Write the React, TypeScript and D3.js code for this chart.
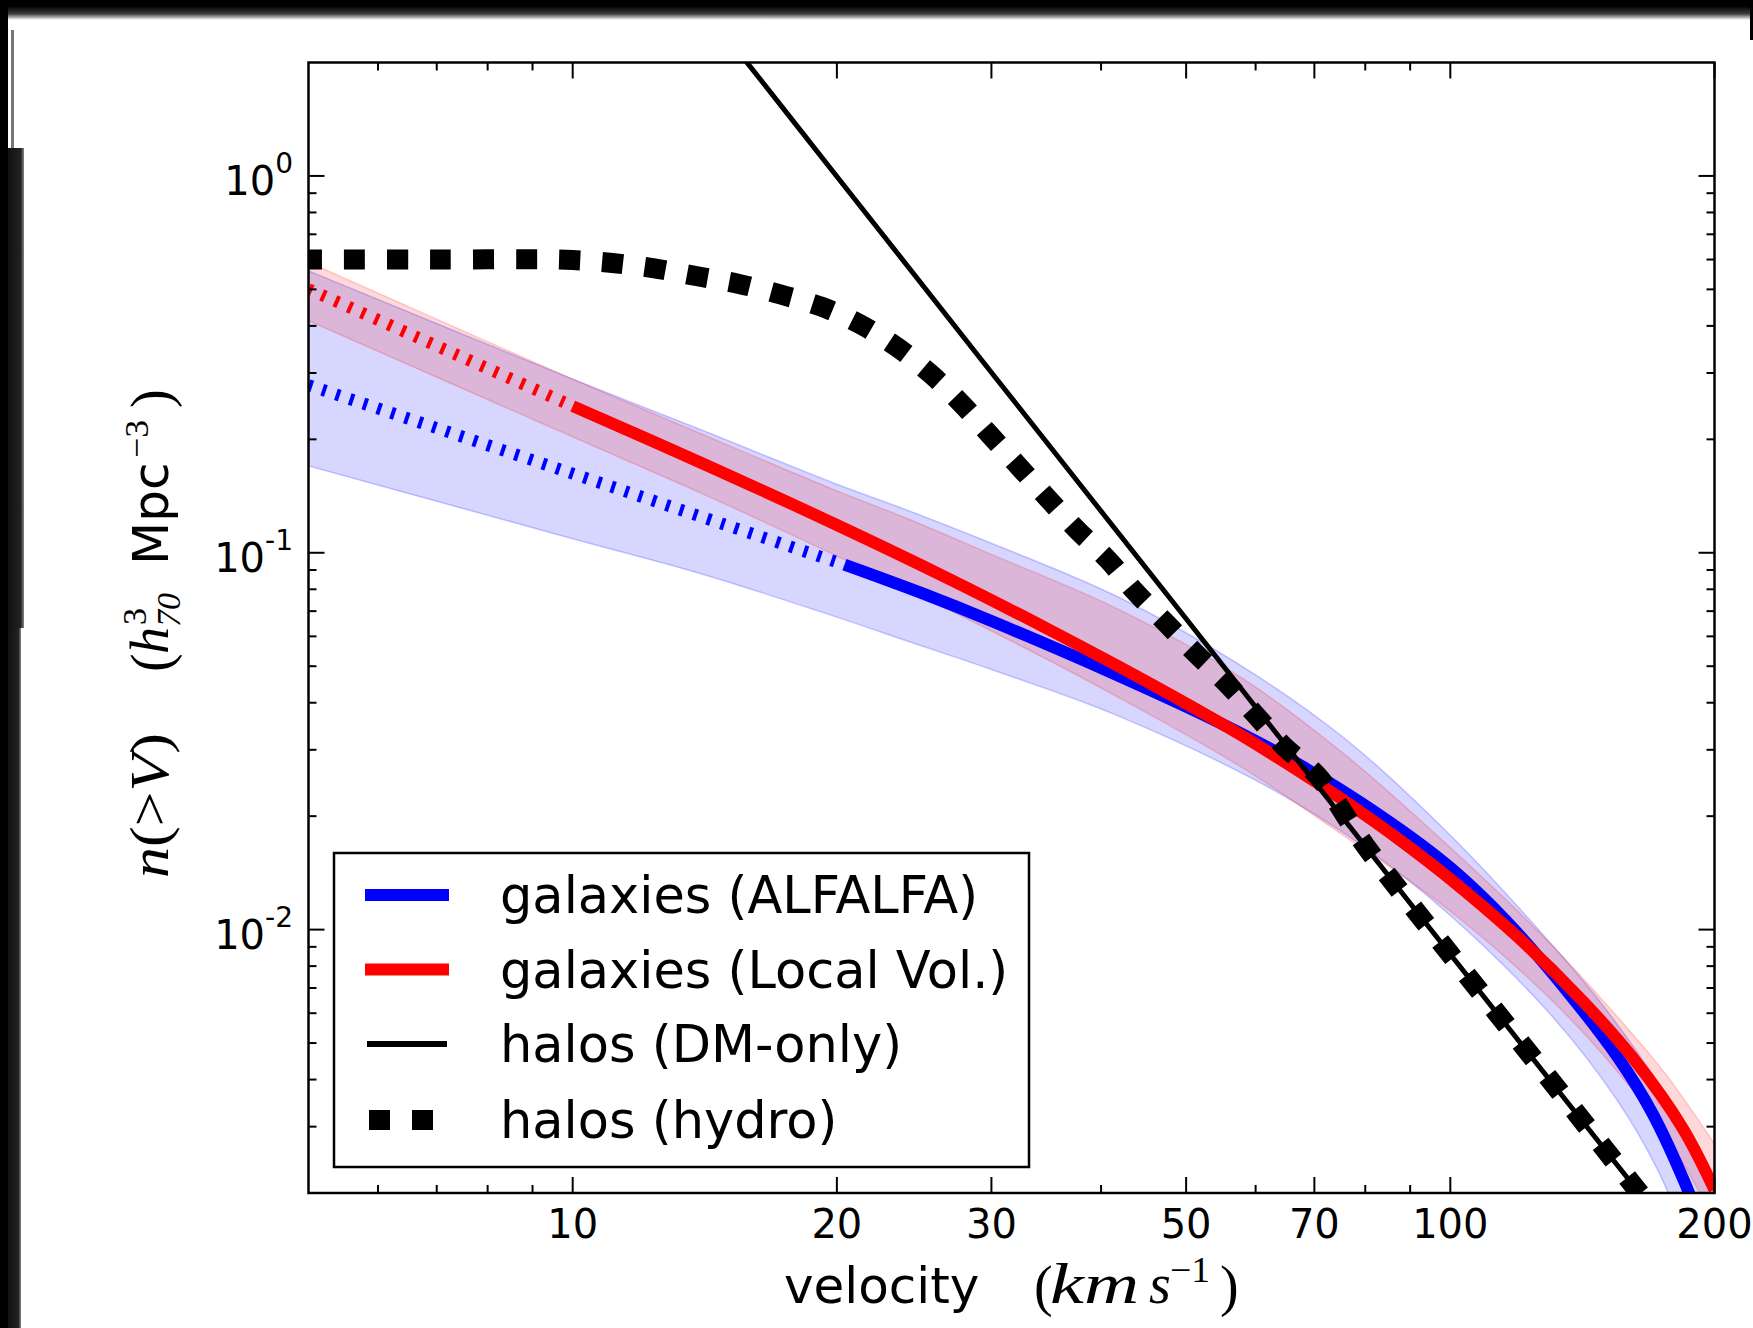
import * as d3 from "d3";
import React from "react";

// galaxies (ALFALFA): best fit and its uncertainty band
const alfalfaV = [5, 7, 10, 14, 20.4, 25, 30, 41.5, 55, 68, 85, 100, 116, 137, 155, 170, 185, 192];
const alfalfaN = [0.2785, 0.2142, 0.1622, 0.1247, 0.093, 0.0781, 0.0659, 0.0476, 0.0351, 0.027, 0.0194, 0.0146, 0.0105, 0.0067, 0.0046, 0.00325, 0.00213, 0.0017];
const alfalfaHiV = [5, 10, 14, 20, 24, 30, 41.5, 57.5, 76, 100, 127, 150, 175, 200];
const alfalfaHiN = [0.56, 0.289, 0.212, 0.152, 0.13, 0.106, 0.077, 0.0505, 0.032, 0.0178, 0.0098, 0.0062, 0.0037, 0.0021];
const alfalfaLoV = [5, 10, 14, 20, 24, 30, 41.5, 62, 80, 100, 130, 155, 172, 190];
const alfalfaLoN = [0.17, 0.109, 0.088, 0.0675, 0.0584, 0.049, 0.0372, 0.0239, 0.0165, 0.0109, 0.00596, 0.00352, 0.00232, 0.00134];
const alfalfaDottedBelow = 20.4;

// galaxies (Local Vol.)
const localV = [5, 7, 10, 14, 20, 26.8, 35, 41.5, 50, 57.5, 68, 77, 88, 100, 119, 142, 162, 184, 200];
const localN = [0.5008, 0.354, 0.245, 0.1734, 0.1185, 0.0854, 0.0623, 0.0505, 0.0398, 0.033, 0.0259, 0.0214, 0.01715, 0.01362, 0.00962, 0.00641, 0.00452, 0.00297, 0.00204];
const localHiV = [5, 10, 14, 20, 24, 30, 41.5, 57.5, 76, 100, 127, 150, 175, 200];
const localHiN = [0.59, 0.289, 0.207, 0.146, 0.1235, 0.099, 0.0715, 0.047, 0.029, 0.0165, 0.0097, 0.0064, 0.0042, 0.0027];
const localLoV = [5, 10, 14, 20, 30, 41.5, 57.5, 76, 100, 127, 150, 175, 200];
const localLoN = [0.413, 0.203, 0.144, 0.098, 0.062, 0.0418, 0.0272, 0.0176, 0.0112, 0.0069, 0.0046, 0.0029, 0.0017];
const localDottedBelow = 10;

// halos
const dmV = [15, 20, 30, 50, 70, 100, 150, 180];
const dmN = [2.33, 0.997, 0.301, 0.0668, 0.0247, 0.0086, 0.00261, 0.00153];
const hydroV = [5, 7, 10, 12, 13.97, 15.47, 17.28, 19.24, 21.26, 23.43, 25.55, 27.72, 29.91, 32.27, 34.83, 37.57, 40.76, 43.75, 47.46, 51.21, 55.55, 59.95, 64.69, 70.7, 80, 100, 130, 160, 180];
const hydroN = [0.6, 0.6, 0.598, 0.575, 0.54, 0.517, 0.484, 0.449, 0.404, 0.351, 0.299, 0.249, 0.205, 0.169, 0.139, 0.115, 0.0957, 0.0788, 0.065, 0.0542, 0.0451, 0.0372, 0.0306, 0.0255, 0.0167, 0.0086, 0.00399, 0.00216, 0.00153];

// axes
const xMajor = [10, 20, 30, 50, 70, 100, 200];
const xMinor = [6, 7, 8, 9, 40, 60, 80, 90];
const yMajor = [0.01, 0.1, 1];
const yMajorExp = ["-2", "-1", "0"];
const yMinor = [0.002, 0.003, 0.004, 0.005, 0.006, 0.007, 0.008, 0.009, 0.02, 0.03, 0.04, 0.05, 0.06, 0.07, 0.08, 0.09, 0.2, 0.3, 0.4, 0.5, 0.6, 0.7, 0.8, 0.9];

const legendLabels = ["galaxies (ALFALFA)", "galaxies (Local Vol.)", "halos (DM-only)", "halos (hydro)"];

const W = 1753;
const H = 1328;
const left = 308.5, right = 1714.5, top = 62.5, bottom = 1193;
const sans = "'DejaVu Sans', sans-serif";
const serif = "'Liberation Serif', 'DejaVu Serif', serif";

const x = d3.scaleLog().domain([5, 200]).range([left, right]);
const y = d3.scaleLog().domain([0.002, 2]).range([bottom, top]);

const smooth = d3.curveCatmullRom.alpha(0.5);

const line = d3.line<number[]>()
  .x((d) => x(d[0]))
  .y((d) => y(d[1]))
  .curve(smooth);

const pts = (vs: number[], ns: number[]) => vs.map((v, i) => [v, ns[i]]);

function band(hiV: number[], hiN: number[], loV: number[], loN: number[]) {
  const upper = line(pts(hiV, hiN)) || "";
  const lower = line(pts(loV, loN).reverse()) || "";
  return upper + "L" + lower.slice(1) + "Z";
}

function splitAt(vs: number[], ns: number[], thr: number) {
  const p = pts(vs, ns);
  return {
    dotted: line(p.filter((d) => d[0] <= thr)) || "",
    solid: line(p.filter((d) => d[0] >= thr)) || "",
  };
}

export default function App() {
  const blue = splitAt(alfalfaV, alfalfaN, alfalfaDottedBelow);
  const red = splitAt(localV, localN, localDottedBelow);
  const blueBand = band(alfalfaHiV, alfalfaHiN, alfalfaLoV, alfalfaLoN);
  const redBand = band(localHiV, localHiN, localLoV, localLoN);

  const legendRows = [895, 969.5, 1044, 1120];

  return (
    <svg width={W} height={H} viewBox={`0 0 ${W} ${H}`}
      style={{ position: "absolute", left: 0, top: 0, background: "#fff" }}>
      <defs>
        <clipPath id="plot">
          <rect x={left} y={top} width={right - left} height={bottom - top} />
        </clipPath>
        <linearGradient id="topband" x1="0" y1="0" x2="0" y2="1">
          <stop offset="0" stopColor="#000" />
          <stop offset="0.55" stopColor="#3a3a3a" />
          <stop offset="1" stopColor="#fff" />
        </linearGradient>
        <linearGradient id="leftband" x1="0" y1="0" x2="1" y2="0">
          <stop offset="0" stopColor="#111" />
          <stop offset="0.8" stopColor="#222" />
          <stop offset="1" stopColor="#888" />
        </linearGradient>
      </defs>

      {/* scanned page frame */}
      <rect x={0} y={0} width={W} height={6} fill="#000" />
      <rect x={0} y={6} width={W} height={14} fill="url(#topband)" />
      <rect x={0} y={0} width={8} height={H} fill="#000" />
      <rect x={8} y={148} width={16} height={480} fill="url(#leftband)" />
      <rect x={8} y={628} width={13} height={H - 628} fill="url(#leftband)" />
      <rect x={11} y={30} width={3} height={118} fill="#777" />
      <rect x={1750} y={0} width={3} height={40} fill="#000" />

      {/* bands */}
      <g clipPath="url(#plot)">
        <path d={blueBand} fill="#0000ff" fillOpacity={0.16} stroke="#0000ff" strokeOpacity={0.2} strokeWidth={1.5} />
        <path d={redBand} fill="#ff0000" fillOpacity={0.15} stroke="#ff0000" strokeOpacity={0.18} strokeWidth={1.5} />

        <path d={blue.dotted} fill="none" stroke="#0000ff" strokeWidth={12} strokeDasharray="4 10.5" />
        <path d={blue.solid} fill="none" stroke="#0000ff" strokeWidth={12} />
        <path d={red.dotted} fill="none" stroke="#ff0000" strokeWidth={12} strokeDasharray="4 10.5" />
        <path d={red.solid} fill="none" stroke="#ff0000" strokeWidth={12} />

        <path d={line(pts(dmV, dmN)) || ""} fill="none" stroke="#000" strokeWidth={5} />
        <path d={line(pts(hydroV, hydroN)) || ""} fill="none" stroke="#000" strokeWidth={20}
          strokeDasharray="21 22" strokeDashoffset={7.5} />
      </g>

      {/* ticks, inward on all four sides */}
      <g stroke="#000" strokeWidth={2}>
        {xMajor.map((v) => (
          <g key={"xM" + v}>
            <line x1={x(v)} x2={x(v)} y1={bottom} y2={bottom - 16} />
            <line x1={x(v)} x2={x(v)} y1={top} y2={top + 16} />
          </g>
        ))}
        {xMinor.map((v) => (
          <g key={"xm" + v}>
            <line x1={x(v)} x2={x(v)} y1={bottom} y2={bottom - 8} />
            <line x1={x(v)} x2={x(v)} y1={top} y2={top + 8} />
          </g>
        ))}
        {yMajor.map((v) => (
          <g key={"yM" + v}>
            <line x1={left} x2={left + 16} y1={y(v)} y2={y(v)} />
            <line x1={right} x2={right - 16} y1={y(v)} y2={y(v)} />
          </g>
        ))}
        {yMinor.map((v) => (
          <g key={"ym" + v}>
            <line x1={left} x2={left + 8} y1={y(v)} y2={y(v)} />
            <line x1={right} x2={right - 8} y1={y(v)} y2={y(v)} />
          </g>
        ))}
      </g>

      <rect x={left} y={top} width={right - left} height={bottom - top} fill="none" stroke="#000" strokeWidth={2.5} />

      {/* tick labels */}
      <g fontFamily={sans} fill="#000">
        {xMajor.map((v) => (
          <text key={"xl" + v} x={x(v)} y={1238} fontSize={40} textAnchor="middle">{v}</text>
        ))}
        {yMajor.map((v, i) => (
          <text key={"yl" + v} x={293} y={y(v) + 19.5} fontSize={40} textAnchor="end">
            10<tspan dy={-22} fontSize={28}>{yMajorExp[i]}</tspan>
          </text>
        ))}
      </g>

      {/* x label */}
      <g fill="#000">
        <text x={784} y={1303} fontFamily={sans} fontSize={50}>velocity</text>
        <text x={1034} y={1305} fontFamily={serif} fontSize={56}>(</text>
        <text x={1050} y={1303} fontFamily={serif} fontSize={56} fontStyle="italic"
          textLength={89} lengthAdjust="spacingAndGlyphs">km</text>
        <text x={1149} y={1303} fontFamily={serif} fontSize={56} fontStyle="italic">s</text>
        <text x={1170} y={1282} fontFamily={serif} fontSize={36}
          textLength={40} lengthAdjust="spacingAndGlyphs">−1</text>
        <text x={1220} y={1305} fontFamily={serif} fontSize={56}>)</text>
      </g>

      {/* y label */}
      <g transform="translate(168,878) rotate(-90)" fill="#000">
        <text x={0} y={0} fontFamily={serif} fontSize={54} textLength={145} lengthAdjust="spacingAndGlyphs">
          <tspan fontStyle="italic">n</tspan>(&gt;<tspan fontStyle="italic">V</tspan>)
        </text>
        <text x={206} y={2} fontFamily={serif} fontSize={56}>(</text>
        <text x={224} y={0} fontFamily={serif} fontSize={54} fontStyle="italic">h</text>
        <text x={253} y={-22} fontFamily={serif} fontSize={34}>3</text>
        <text x={251} y={12} fontFamily={serif} fontSize={34} fontStyle="italic">70</text>
        <text x={313} y={0} fontFamily={sans} fontSize={50}>Mpc</text>
        <text x={420} y={-20} fontFamily={serif} fontSize={34}
          textLength={38} lengthAdjust="spacingAndGlyphs">−3</text>
        <text x={470} y={2} fontFamily={serif} fontSize={56}>)</text>
      </g>

      {/* legend */}
      <rect x={334} y={853} width={695} height={314} fill="#fff" stroke="#000" strokeWidth={2.5} />
      <line x1={365} x2={449} y1={legendRows[0]} y2={legendRows[0]} stroke="#0000ff" strokeWidth={12} />
      <line x1={365} x2={449} y1={legendRows[1]} y2={legendRows[1]} stroke="#ff0000" strokeWidth={12} />
      <line x1={367} x2={447} y1={legendRows[2]} y2={legendRows[2]} stroke="#000" strokeWidth={6} />
      <line x1={369} x2={449} y1={legendRows[3]} y2={legendRows[3]} stroke="#000" strokeWidth={20} strokeDasharray="21 22" />
      {legendLabels.map((t, i) => (
        <text key={t} x={500} y={legendRows[i] + 18} fontFamily={sans} fontSize={51} fill="#000">{t}</text>
      ))}
    </svg>
  );
}
